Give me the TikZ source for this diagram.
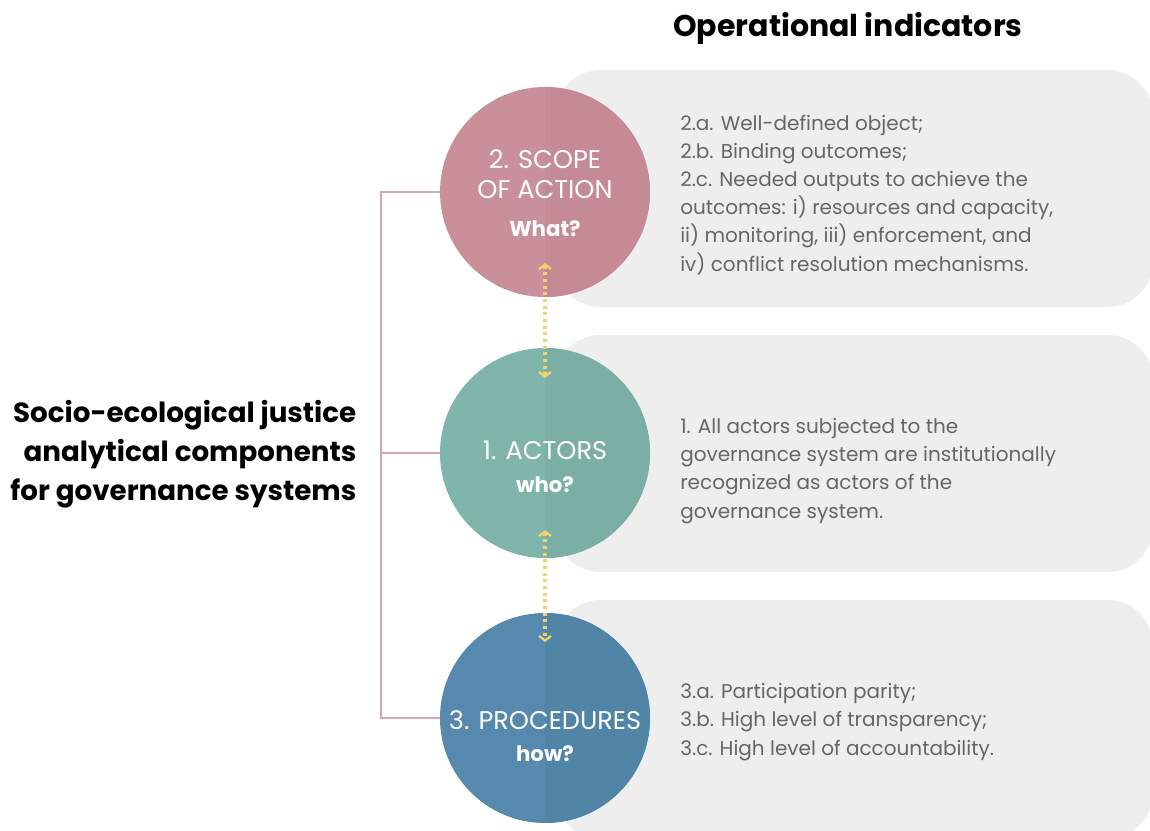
\documentclass[tikz,border=0pt]{standalone}
\usepackage{fontspec}
\setmainfont{Poppins}
\usetikzlibrary{arrows.meta,calc}
\definecolor{pinkc}{HTML}{C9909C}
\definecolor{pinkd}{HTML}{C48B97}
\definecolor{tealc}{HTML}{80B5AC}
\definecolor{teald}{HTML}{7BAFA6}
\definecolor{bluec}{HTML}{5689AD}
\definecolor{blued}{HTML}{5185A8}
\definecolor{boxgray}{HTML}{EEEEEE}
\definecolor{linepink}{HTML}{D7A4AF}
\definecolor{dotyellow}{HTML}{F0D26E}
\definecolor{txtgray}{HTML}{666666}
\newcommand\qwordfont{\fontsize{16}{19}\selectfont\bfseries}
\tikzset{
  panel/.style={fill=boxgray, rounded corners=34pt},
  disc/.style={circle, minimum size=157.5pt, inner sep=0pt},
  circtext/.style={text=white, align=center, font=\fontsize{19.2}{22.5}\selectfont},
  indtext/.style={text=txtgray, align=left, anchor=west, inner sep=0pt,
    font=\fontsize{15}{21.1}\selectfont},
  bracket/.style={draw=linepink, line width=1.1pt},
  dotarrow/.style={draw=dotyellow, line width=2.5pt, dash pattern=on 2.2pt off 2.8pt,
    {Straight Barb[length=3.5pt,width=9pt,line width=1.7pt]}-{Straight Barb[length=3.5pt,width=9pt,line width=1.7pt]}},
}
\begin{document}
\begin{tikzpicture}[x=0.75pt,y=-0.75pt]
\useasboundingbox (0,0) rectangle (1150,831);
\clip (0,0) rectangle (1150,831);
% grey panels
\path[panel] (555,70) rectangle (1153,307);
\path[panel] (555,335) rectangle (1153,572);
\path[panel] (555,600) rectangle (1153,838);
% circles
\node[disc, fill=pinkc] (c1) at (545,192) {};
\node[disc, fill=tealc] (c2) at (545,453) {};
\node[disc, fill=bluec] (c3) at (545,718) {};
\begin{scope}
  \clip (545,0) rectangle (700,831);
  \fill[pinkd] (c1.center) circle[radius=78.75pt];
  \fill[teald] (c2.center) circle[radius=78.75pt];
  \fill[blued] (c3.center) circle[radius=78.75pt];
\end{scope}
% bracket
\coordinate (bt) at (381,192);
\coordinate (bm) at (381,453);
\coordinate (bb) at (381,718);
\draw[bracket] (c1.west) -- (bt) -- (bb) -- (c3.west);
\draw[bracket] (bm) -- (c2.west);
% dotted arrows
\coordinate (a1s) at (545,263);
\coordinate (a1e) at (545,378);
\coordinate (a2s) at (545,530);
\coordinate (a2e) at (545,642);
\draw[dotarrow] (a1s) -- (a1e);
\draw[dotarrow] (a2s) -- (a2e);
% circle texts
\node[circtext] (t1) at (545,193) {2. SCOPE\\OF ACTION\\[6pt]{\qwordfont What?}};
\node[circtext] (t2) at (545,467) {1. ACTORS\\[2pt]{\qwordfont who?}};
\node[circtext] (t3) at (545,736) {3. PROCEDURES\\[2pt]{\qwordfont how?}};
% title
\node[font=\fontsize{22.5}{26}\selectfont\bfseries] (title) at (848,28) {Operational indicators};
% left label
\node[align=right, anchor=east, font=\fontsize{20.8}{29.25}\selectfont\bfseries] (left) at (361,454)
  {Socio-ecological justice\\analytical components\\for governance systems};
% indicator texts
\node[indtext] (i1) at (680,195) {2.a. Well-defined object;\\2.b. Binding outcomes;\\2.c. Needed outputs to achieve the\\outcomes: i) resources and capacity,\\ii) monitoring, iii) enforcement, and\\iv) conflict resolution mechanisms.};
\node[indtext] (i2) at (680,471) {1. All actors subjected to the\\governance system are institutionally\\recognized as actors of the\\governance system.};
\node[indtext] (i3) at (680,722) {3.a. Participation parity;\\3.b. High level of transparency;\\3.c. High level of accountability.};
\end{tikzpicture}
\end{document}
